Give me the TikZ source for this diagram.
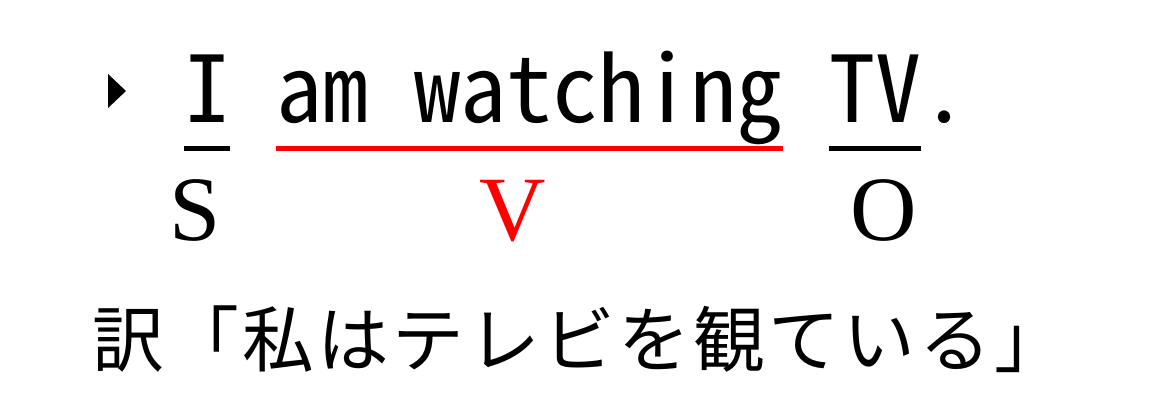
\documentclass[tikz,border=0pt]{standalone}
\usepackage{fontspec}
\usetikzlibrary{positioning}
\newfontfamily\monojp{Noto Sans Mono CJK JP}
\newfontfamily\gothjp[LetterSpace=4.7]{Noto Sans CJK JP}
\newfontfamily\serifrm{Liberation Serif}
\tikzset{
	eng/.style={inner sep=0pt, font=\monojp\fontsize{92}{92}\selectfont},
	part/.style={inner sep=0pt, anchor=base, font=\serifrm\fontsize{92}{92}\selectfont},
	yakubun/.style={inner sep=0pt, anchor=base west, font=\gothjp\fontsize{71.8}{72}\selectfont},
	uline/.style={line width=5pt},
}

\begin{document}
\begin{tikzpicture}[x=1pt, y=-1pt, node distance=46pt]
			%%%%% START %%%%%
			\useasboundingbox (0, 0) rectangle (1172, 403);
			
			\fill (108, 74) -- (126, 91) -- (108, 108) -- cycle;
			
			\node[eng, anchor=base west] (subj) at (184, 123) {I};
			\node[eng, base right=of subj] (verb) {am watching};
			\node[eng, base right=of verb] (obj) {TV};
			\node[eng, base right=0pt of obj] (stop) {.};
			
			\draw[uline] ([yshift=-26pt]subj.base west) -- ([yshift=-26pt]subj.base east);
			\draw[uline, red] ([yshift=-26pt]verb.base west) -- ([yshift=-26pt]verb.base east);
			\draw[uline] ([yshift=-26pt]obj.base west) -- ([yshift=-26pt]obj.base east);
			
			\node[part] (s) at (195.5, 241) {S};
			\node[part, red] (v) at (512.5, 241) {V};
			\node[part] (o) at (883.5, 241) {O};
			
			\node[yakubun] (yaku) at (92, 366) {訳「私はテレビを観ている」};
			%%%%% END %%%%%
\end{tikzpicture}
\end{document}
